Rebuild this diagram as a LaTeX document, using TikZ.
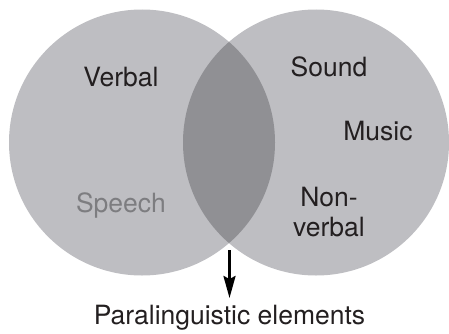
\documentclass[tikz,border=0pt]{standalone}
\usepackage{fontspec}
\setmainfont{TeX Gyre Heros}
\usetikzlibrary{arrows.meta}
\definecolor{circlegrey}{RGB}{190,190,194}
\definecolor{lensgrey}{RGB}{144,144,148}
\definecolor{speechgrey}{RGB}{125,125,128}
\definecolor{textblack}{RGB}{35,31,32}
\tikzset{
    vennlabel/.style={font=\fontsize{26.5}{30}\selectfont, text=textblack, inner sep=0pt},
}

\begin{document}
\begin{tikzpicture}[x=1pt, y=1pt]
        \useasboundingbox (0,0) rectangle (449,333);
        % the two sets
        \fill [circlegrey] (142,190.5) circle (133);
        \fill [circlegrey] (316,190.5) circle (133);
        % their overlap
        \begin{scope}
            \clip (142,190.5) circle (133);
            \fill [lensgrey] (316,190.5) circle (133);
        \end{scope}
        \node [vennlabel] (verbal) at (121,256) {Verbal};
        \node [vennlabel, text=speechgrey] (speech) at (121,128) {Speech};
        \node [vennlabel] (sound) at (329,266) {Sound};
        \node [vennlabel] (music) at (378,202) {Music};
        \node [vennlabel, align=center] (nonverbal) at (329,121) {Non-\\verbal};
        \coordinate (lensbottom) at (229.5,83);
        \coordinate (arrowtip) at (229.5,35);
        \node [vennlabel] (para) at (229.5,15) {Paralinguistic elements};
        \draw [line width=2.6pt, -{Stealth[length=22pt,width=12pt,inset=3pt]}] (lensbottom) -- (arrowtip);
    \end{tikzpicture}
\end{document}
